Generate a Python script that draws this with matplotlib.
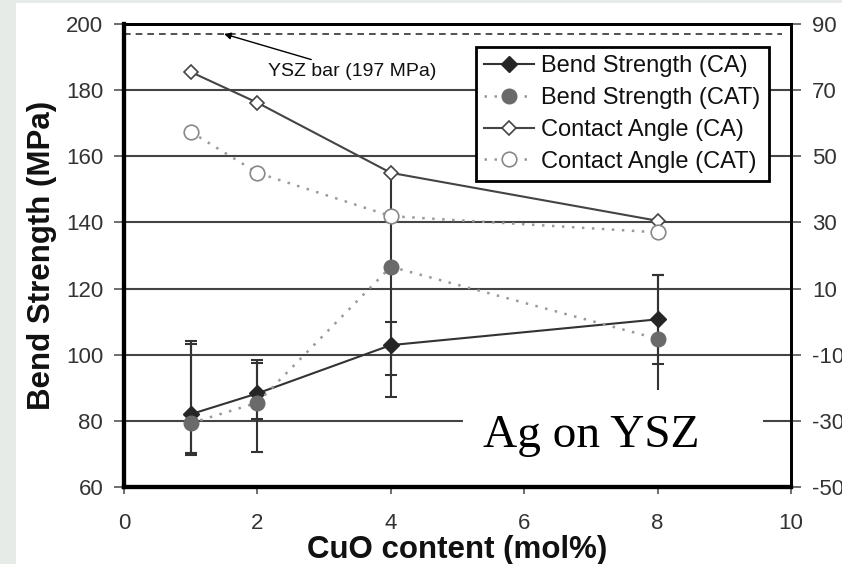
import numpy as np
import matplotlib.pyplot as plt
from matplotlib.patches import Rectangle

plt.rcParams['font.family'] = ['Liberation Sans', 'DejaVu Sans']
plt.rcParams['axes.unicode_minus'] = False

# CuO content (mol%)
cuo = np.array([1, 2, 4, 8])

# Bend strength (MPa) with lower / upper error bar ends
bend_ca = np.array([82.0, 88.3, 102.9, 110.7])
bend_ca_lo = np.array([69.6, 80.5, 93.8, 97.3])
bend_ca_hi = np.array([104.2, 98.4, 109.8, 124.1])

bend_cat = np.array([79.3, 85.5, 126.6, 104.8])
bend_cat_lo = np.array([70.4, 70.6, 87.2, 85.5])
bend_cat_hi = np.array([103.2, 97.4, 155.0, 124.1])

# Contact angle (deg), right axis
angle_ca = np.array([75.5, 66.2, 45.0, 30.5])
angle_cat = np.array([57.4, 45.0, 31.9, 27.0])

ysz_bar = 197  # MPa

fig = plt.figure(figsize=(8.42, 5.64), dpi=100)
fig.patch.set_facecolor('#e7ebe7')
fig.patches.append(Rectangle((16 / 842, 0), 1, 1 - 3 / 564, transform=fig.transFigure,
                             facecolor='white', edgecolor='none', zorder=-10))

ax = fig.add_axes([124 / 842, 77 / 564, 667 / 842, 463 / 564])
ax2 = ax.twinx()
ax.patch.set_alpha(0)
ax2.patch.set_alpha(0)

# grid + reference line
ax.set_xlim(0, 10)
ax.set_ylim(60, 200)
ax.set_xticks(np.arange(0, 11, 2))
ax.set_yticks(np.arange(60, 201, 20))
ax.yaxis.grid(True, color='#444444', lw=1.5)
ax.set_axisbelow(True)
ax.axhline(ysz_bar, xmin=0, xmax=0.987, color='#333333', lw=1.2, ls=(0, (4, 3)))
ax.annotate('YSZ bar (197 MPa)', xy=(1.5, ysz_bar), xytext=(2.16, 185.6),
            fontsize=14, va='center', ha='left', color='#111111',
            arrowprops=dict(arrowstyle='-|>', color='black', lw=1,
                            mutation_scale=10, shrinkA=2, shrinkB=0))

# bend strength series
ax.errorbar(cuo, bend_ca, yerr=[bend_ca - bend_ca_lo, bend_ca_hi - bend_ca],
            fmt='none', ecolor='#333333', elinewidth=1.5, capsize=4, capthick=1.5)
ax.errorbar(cuo, bend_cat, yerr=[bend_cat - bend_cat_lo, bend_cat_hi - bend_cat],
            fmt='none', ecolor='#333333', elinewidth=1.5, capsize=4, capthick=1.5)
h1, = ax.plot(cuo, bend_ca, '-', color='#333333', lw=1.5, marker='D', ms=8.5,
              mfc='#262626', mec='#262626', label='Bend Strength (CA)')
h2, = ax.plot(cuo, bend_cat, ls=(0, (1, 3)), color='#999999', lw=1.8, marker='o', ms=10.5,
              mfc='#6a6a6a', mec='#6a6a6a', label='Bend Strength (CAT)')

# contact angle series
ax2.set_ylim(-50, 90)
ax2.set_yticks(np.arange(-50, 91, 20))
h3, = ax2.plot(cuo, angle_ca, '-', color='#444444', lw=1.5, marker='D', ms=7.5,
               mfc='white', mec='#444444', mew=1.2, label='Contact Angle (CA)')
h4, = ax2.plot(cuo, angle_cat, ls=(0, (1, 3)), color='#999999', lw=1.8, marker='o', ms=10.5,
               mfc='white', mec='#888888', mew=1.2, label='Contact Angle (CAT)')

leg = ax2.legend(handles=[h1, h2, h3, h4], loc='upper left', bbox_to_anchor=(0.528, 0.951),
                 borderaxespad=0, fontsize=17, frameon=True, fancybox=False,
                 handlelength=2.1, handletextpad=0.3, labelspacing=0.42,
                 borderpad=0.35, framealpha=1)
leg.get_frame().set_edgecolor('black')
leg.get_frame().set_linewidth(2)
for t in leg.get_texts():
    t.set_color('#111111')

# sample label over the lower right of the plot
ax2.add_patch(Rectangle((0.508, 0.012), 0.45, 0.198, transform=ax2.transAxes,
                        facecolor='white', edgecolor='none', zorder=5))
ax2.text(0.700, 0.0864, 'Ag on YSZ', transform=ax2.transAxes, ha='center', va='baseline',
         fontsize=34, family='Liberation Serif', color='black', zorder=6)

# spines and ticks
for a in (ax, ax2):
    for side in ('left', 'bottom'):
        a.spines[side].set_linewidth(3)
    for side in ('top', 'right'):
        a.spines[side].set_linewidth(2)
    a.tick_params(axis='both', labelsize=16, labelcolor='#333333', color='#555555', width=1.2)
ax.tick_params(axis='y', length=7, pad=8)
ax.tick_params(axis='x', length=5, pad=14)
ax2.tick_params(axis='y', length=7, pad=8)

ax.set_xlabel('CuO content (mol%)', fontsize=22.5, fontweight='bold', color='#111111')
ax.set_ylabel('Bend Strength (MPa)', fontsize=22.5, fontweight='bold', color='#111111')
ax.xaxis.set_label_coords(0.5, -0.104)
ax.yaxis.set_label_coords(-0.123, 0.5)
ax.yaxis.label.set_va('center')

fig.savefig('out.png', dpi=100, facecolor=fig.get_facecolor())
